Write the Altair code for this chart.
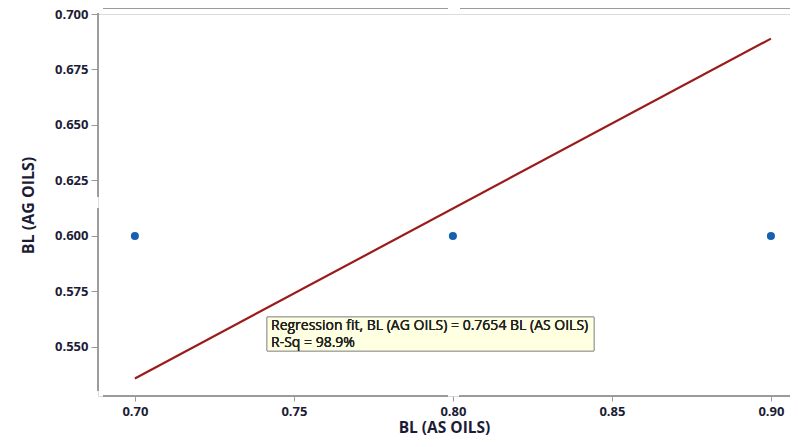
import altair as alt
import pandas as pd

# data
x_vals = [0.70, 0.80, 0.90]
y_vals = [0.60, 0.60, 0.60]
fit_x = [0.70, 0.90]
fit_y = [0.5358, 0.6889]
x_ticks = [0.70, 0.75, 0.80, 0.85, 0.90]
y_ticks = [0.550, 0.575, 0.600, 0.625, 0.650, 0.675, 0.700]
fit_text = ["Regression fit, BL (AG OILS) = 0.7654 BL (AS OILS)", "R-Sq = 98.9%"]

X_DOMAIN = [0.6884, 0.9060]
Y_DOMAIN = [0.5279, 0.7000]
W, H = 692, 382
FONT = "Open Sans"
LBL = "#1c1c36"
AX = "#9a9a9a"

pts = pd.DataFrame({"x": x_vals, "y": y_vals})
fit = pd.DataFrame({"x": fit_x, "y": fit_y})

xs = alt.Scale(domain=X_DOMAIN, nice=False, zero=False)
ys = alt.Scale(domain=Y_DOMAIN, nice=False, zero=False)

xaxis = alt.Axis(values=x_ticks, format=".2f", domain=False, grid=False,
                 tickColor=AX, tickSize=5, labelPadding=4,
                 labelFont=FONT, labelFontSize=13, labelFontWeight="bold", labelColor=LBL,
                 titleFont=FONT, titleFontSize=15.5, titleFontWeight="bold", titleColor=LBL,
                 titlePadding=2)
yaxis = alt.Axis(values=y_ticks, format=".3f", domain=False, grid=False,
                 tickColor=AX, tickSize=7, labelPadding=3,
                 labelFont=FONT, labelFontSize=13, labelFontWeight="bold", labelColor=LBL,
                 titleFont=FONT, titleFontSize=16, titleFontWeight="bold", titleColor=LBL,
                 titlePadding=18)

points = alt.Chart(pts).mark_point(filled=True, size=65, color="#1560b0", opacity=1).encode(
    x=alt.X("x:Q", scale=xs, axis=xaxis, title="BL (AS OILS)"),
    y=alt.Y("y:Q", scale=ys, axis=yaxis, title="BL (AG OILS)"),
)

line = alt.Chart(fit).mark_line(color="#9b1b1b", strokeWidth=2.2).encode(
    x=alt.X("x:Q", scale=xs), y=alt.Y("y:Q", scale=ys)
)

def rule(x, x2, y, y2):
    return alt.Chart(pts).mark_rule(color=AX, strokeWidth=1.3).encode(
        x=alt.value(x), x2=alt.value(x2), y=alt.value(y), y2=alt.value(y2)
    )

frame = [
    rule(0, 0, -1, 183), rule(0, 0, 194, 377),          # left axis
    rule(5, 350, H, H), rule(361, W, H, H),            # bottom axis
    rule(5, 350, -6, -6), rule(362, W, -6, -6),        # top line
]

box = alt.Chart(pts).mark_rect(fill="#ffffe1", stroke="#a0a0a0", strokeWidth=1).encode(
    x=alt.value(169), x2=alt.value(496), y=alt.value(303), y2=alt.value(337)
)
txt1 = alt.Chart(pts).mark_text(align="left", baseline="middle", font=FONT, fontSize=14,
                                color="#222222").encode(
    x=alt.value(173), y=alt.value(312), text=alt.value(fit_text[0]))
txt2 = alt.Chart(pts).mark_text(align="left", baseline="middle", font=FONT, fontSize=14,
                                color="#222222").encode(
    x=alt.value(173), y=alt.value(329), text=alt.value(fit_text[1]))

chart = alt.layer(*frame, line, points, box, txt1, txt2).properties(
    width=W, height=H,
    autosize=alt.AutoSizeParams(type="none"),
    padding={"left": 90, "top": 6, "right": 0, "bottom": 39},
).configure_view(stroke=None).configure(background="white")

chart.save("out.html", embed_options={"renderer": "svg", "actions": False})
